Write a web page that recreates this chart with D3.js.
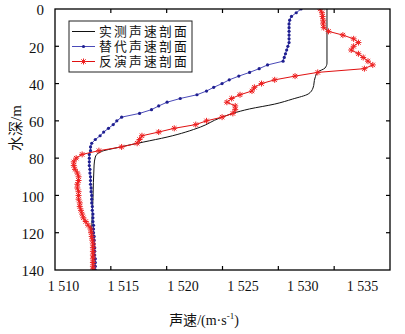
<!DOCTYPE html>
<html>
<head>
<meta charset="utf-8">
<script src="https://cdn.jsdelivr.net/npm/d3@7"></script>
<style>
  body { margin: 0; background: #fff; }
  svg { display: block; }
</style>
</head>
<body>
<svg id="chart" width="405" height="334"></svg>
<script>
// depth grid of the sampled profiles (m)
const depths = [0, 2, 4, 6, 8, 10, 12, 14, 16, 18, 20, 22, 24, 26, 28, 30, 32, 34, 36, 38,
    40, 42, 44, 46, 48, 50, 52, 54, 56, 58, 60, 62, 64, 66, 68, 70, 72, 74, 76, 78,
    80, 82, 84, 86, 88, 90, 92, 94, 96, 98, 100, 102, 104, 106, 108, 110, 112, 114, 116, 118,
    120, 122, 124, 126, 128, 130, 132, 134, 136, 138, 140];

// 替代声速剖面
const substituteSpeed = [1529.9, 1529.5, 1529.1, 1528.95, 1528.9, 1528.9,
    1528.9, 1528.9, 1528.9, 1528.9, 1528.8, 1528.7,
    1528.6, 1528.5, 1528.4, 1527.1, 1526.4, 1525.6,
    1524.7, 1523.9, 1523.3, 1522.6, 1522.0, 1521.2,
    1519.8, 1518.7, 1518.0, 1517.4, 1516.4, 1514.9,
    1514.5, 1514.2, 1513.8, 1513.4, 1513.1, 1512.7,
    1512.4, 1512.3, 1512.3, 1512.2, 1512.2, 1512.2,
    1512.2, 1512.25, 1512.25, 1512.3, 1512.3, 1512.3,
    1512.35, 1512.35, 1512.4, 1512.4, 1512.4, 1512.45,
    1512.45, 1512.5, 1512.5, 1512.5, 1512.55, 1512.55,
    1512.55, 1512.6, 1512.6, 1512.6, 1512.65, 1512.65,
    1512.65, 1512.7, 1512.7, 1512.7, 1512.7];

// 反演声速剖面
const invertedSpeed = [1531.5, 1531.65, 1531.7, 1531.75, 1531.75, 1531.8,
    1532.2, 1533.4, 1534.3, 1534.7, 1534.3, 1534.1,
    1534.7, 1535.1, 1535.5, 1535.9, 1535.2, 1531.3,
    1529.4, 1527.7, 1526.6, 1526.0, 1525.8, 1524.8,
    1524.1, 1523.7, 1524.4, 1524.4, 1524.2, 1523.3,
    1522.0, 1521.1, 1519.3, 1518.0, 1516.6, 1516.4,
    1516.2, 1514.9, 1513.0, 1511.6, 1511.1, 1510.9,
    1510.9, 1511.0, 1511.2, 1511.3, 1511.3, 1511.2,
    1511.2, 1511.3, 1511.3, 1511.3, 1511.4, 1511.4,
    1511.5, 1511.6, 1511.7, 1511.9, 1512.1, 1512.3,
    1512.35, 1512.4, 1512.45, 1512.5, 1512.5, 1512.5,
    1512.5, 1512.5, 1512.5, 1512.5, 1512.5];

// 实测声速剖面 (smooth line, no markers)
const measuredDepth = [0, 29, 31.7, 33.8, 37, 42.4, 45.6, 48.3, 51, 53.6, 58.5, 63.3,
    68.7, 71.4, 74, 76.7, 79.4, 83.7, 102.5, 118.6, 129, 140];
const measuredSpeed = [1532.07, 1532.07, 1531.9, 1531.3, 1531.07, 1530.9, 1530.5, 1529.2, 1527.7, 1525.6, 1523.1, 1521.5,
    1518.7, 1516.7, 1514.8, 1513.1, 1512.7, 1512.6, 1512.5, 1512.4, 1512.5, 1512.5];

const speedTicks = [1510, 1515, 1520, 1525, 1530, 1535];
const depthTicks = [0, 20, 40, 60, 80, 100, 120, 140];
const legendNames = ["实测声速剖面", "替代声速剖面", "反演声速剖面"];

const plotLeft = 55, plotRight = 390, plotTop = 9, plotBottom = 270;

const x = d3.scaleLinear().domain([1509.33, 1537.34]).range([plotLeft, plotRight]);
const y = d3.scaleLinear().domain([0, 140]).range([plotTop, plotBottom]);
// the tick marks split the frame in six equal parts
const xMark = d3.scaleLinear().domain([0, 6]).range([plotLeft, plotRight]);

const svg = d3.select("#chart");
svg.append("rect").attr("width", 405).attr("height", 334).attr("fill", "#fff");

svg.append("defs").append("clipPath").attr("id", "plot-clip")
    .append("rect")
    .attr("x", plotLeft).attr("y", plotTop)
    .attr("width", plotRight - plotLeft).attr("height", plotBottom - plotTop);

const plot = svg.append("g").attr("clip-path", "url(#plot-clip)");

const blackLine = d3.line()
    .x((d, i) => x(measuredSpeed[i]))
    .y(d => y(d))
    .curve(d3.curveMonotoneY);

const profileLine = values => d3.line()
    .x((d, i) => x(values[i]))
    .y(d => y(d));

plot.append("path")
    .datum(measuredDepth)
    .attr("d", blackLine)
    .attr("fill", "none")
    .attr("stroke", "#111")
    .attr("stroke-width", 1);

plot.append("path")
    .datum(depths)
    .attr("d", profileLine(substituteSpeed))
    .attr("fill", "none")
    .attr("stroke", "#4a4ab8")
    .attr("stroke-width", 1);

plot.selectAll(".blue-dot")
    .data(depths)
    .enter().append("circle")
    .attr("class", "blue-dot")
    .attr("cx", (d, i) => x(substituteSpeed[i]))
    .attr("cy", d => y(d))
    .attr("r", 1.6)
    .attr("fill", "#1f1f90");

plot.append("path")
    .datum(depths)
    .attr("d", profileLine(invertedSpeed))
    .attr("fill", "none")
    .attr("stroke", "#e01010")
    .attr("stroke-width", 1);

const star = "M-3,0H3M0,-3V3M-2.2,-2.2L2.2,2.2M-2.2,2.2L2.2,-2.2";

plot.selectAll(".red-star")
    .data(depths)
    .enter().append("path")
    .attr("class", "red-star")
    .attr("transform", (d, i) => `translate(${x(invertedSpeed[i])},${y(d)})`)
    .attr("d", star)
    .attr("stroke", "#ee2020")
    .attr("stroke-width", 1)
    .attr("fill", "none");

// frame
svg.append("rect")
    .attr("x", plotLeft).attr("y", plotTop)
    .attr("width", plotRight - plotLeft).attr("height", plotBottom - plotTop)
    .attr("fill", "none")
    .attr("stroke", "#000")
    .attr("stroke-width", 1.3);

// tick marks, pointing inward
const markIdx = [1, 2, 3, 4, 5];
svg.selectAll(".xmark-b")
    .data(markIdx).enter().append("line")
    .attr("x1", d => xMark(d)).attr("x2", d => xMark(d))
    .attr("y1", plotBottom).attr("y2", plotBottom - 4)
    .attr("stroke", "#000").attr("stroke-width", 1.2);
svg.selectAll(".xmark-t")
    .data(markIdx).enter().append("line")
    .attr("x1", d => xMark(d)).attr("x2", d => xMark(d))
    .attr("y1", plotTop).attr("y2", plotTop + 4)
    .attr("stroke", "#000").attr("stroke-width", 1.2);

const innerDepth = depthTicks.slice(1, -1);
svg.selectAll(".ymark-l")
    .data(innerDepth).enter().append("line")
    .attr("x1", plotLeft).attr("x2", plotLeft + 4)
    .attr("y1", d => y(d)).attr("y2", d => y(d))
    .attr("stroke", "#000").attr("stroke-width", 1.2);
svg.selectAll(".ymark-r")
    .data(innerDepth).enter().append("line")
    .attr("x1", plotRight).attr("x2", plotRight - 4)
    .attr("y1", d => y(d)).attr("y2", d => y(d))
    .attr("stroke", "#000").attr("stroke-width", 1.2);

// tick labels
const xAxis = svg.append("g")
    .attr("transform", `translate(0,${plotBottom + 8})`)
    .call(d3.axisBottom(x).tickValues(speedTicks).tickSize(0)
        .tickFormat(d => d3.format("d")(d).replace(/^(\d)(\d{3})$/, "$1 $2")));
xAxis.select(".domain").remove();
xAxis.selectAll("text")
    .attr("font-family", "'Liberation Serif', 'Times New Roman', serif")
    .attr("font-size", 14)
    .attr("fill", "#111");

const yAxis = svg.append("g")
    .attr("transform", `translate(${plotLeft - 8},1)`)
    .call(d3.axisLeft(y).tickValues(depthTicks).tickSize(0));
yAxis.select(".domain").remove();
yAxis.selectAll("text")
    .attr("font-family", "'Liberation Serif', 'Times New Roman', serif")
    .attr("font-size", 15)
    .attr("fill", "#111");

// axis titles
const xTitle = svg.append("text")
    .attr("x", 204).attr("y", 325)
    .attr("text-anchor", "middle")
    .attr("font-size", 14)
    .attr("fill", "#111");
xTitle.append("tspan").attr("font-family", "'Noto Sans CJK SC'").text("声速");
xTitle.append("tspan").attr("font-family", "'Liberation Serif', serif").text("/(m·s");
xTitle.append("tspan").attr("font-family", "'Liberation Serif', serif")
    .attr("font-size", 9).attr("dy", -6).text("-1");
xTitle.append("tspan").attr("font-family", "'Liberation Serif', serif")
    .attr("dy", 6).text(")");

const yTitle = svg.append("text")
    .attr("transform", "translate(21,128) rotate(-90)")
    .attr("text-anchor", "middle")
    .attr("font-size", 15)
    .attr("fill", "#111");
yTitle.append("tspan").attr("font-family", "'Noto Sans CJK SC'").text("水深");
yTitle.append("tspan").attr("font-family", "'Liberation Serif', serif").text("/m");

// legend
const legend = svg.append("g").attr("transform", "translate(69,21)");
legend.append("rect")
    .attr("width", 123).attr("height", 51)
    .attr("fill", "#fff").attr("stroke", "#222").attr("stroke-width", 1);

const rows = legend.selectAll(".row")
    .data(legendNames)
    .enter().append("g")
    .attr("transform", (d, i) => `translate(0,${10.5 + i * 15})`);

const legendStroke = ["#111", "#4a4ab8", "#e01010"];
rows.append("line")
    .attr("x1", 3).attr("x2", 26)
    .attr("stroke", (d, i) => legendStroke[i])
    .attr("stroke-width", 1);

rows.filter((d, i) => i === 1).append("circle")
    .attr("cx", 14.5).attr("r", 1.6).attr("fill", "#1f1f90");
rows.filter((d, i) => i === 2).append("path")
    .attr("transform", "translate(14.5,0)")
    .attr("d", star).attr("stroke", "#ee2020").attr("stroke-width", 1);

rows.append("text")
    .attr("x", 30).attr("dy", "0.38em")
    .attr("font-family", "'Liberation Serif', 'Noto Sans CJK SC', serif")
    .attr("font-size", 12.8)
    .attr("letter-spacing", 2.2)
    .attr("fill", "#111")
    .text(d => d);
</script>
</body>
</html>
